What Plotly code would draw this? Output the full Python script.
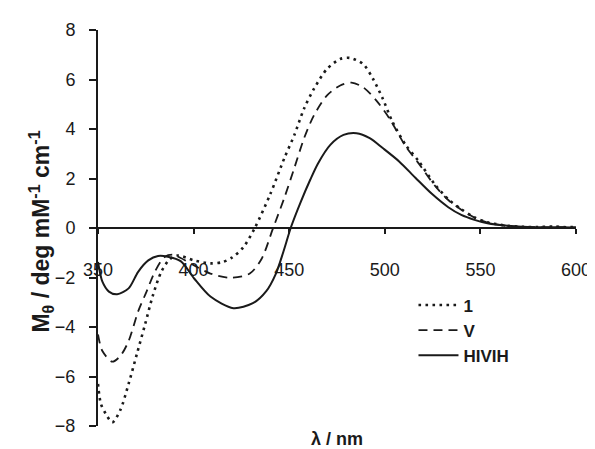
import plotly.graph_objects as go

# ---- data ----
wl_1 = [350, 351.5, 354, 357.5, 361.7, 366, 370.3, 374.6, 378.8, 383.1, 387.4, 391.7,
        400.3, 408.8, 415, 420, 426, 432, 440, 447.5, 452.7, 457.8, 463, 469.8, 476.7,
        481.8, 488.6, 493.8, 498.9, 504, 510.9, 517.8, 526.3, 533.2, 540, 546.9, 553.7,
        564, 572, 580, 588, 595, 600]
cd_1 = [-6.3, -7.1, -7.5, -7.85, -7.35, -6.3, -5.1, -3.9, -2.7, -1.77, -1.27, -1.11,
        -1.31, -1.43, -1.38, -1.2, -0.78, 0.0, 1.35, 2.83, 3.76, 4.83, 5.63, 6.43, 6.83,
        6.87, 6.63, 6.03, 5.23, 4.29, 3.36, 2.69, 1.75, 1.16, 0.76, 0.43, 0.23,
        0.09, 0.05, 0.04, 0.06, 0.03, 0.05]

wl_v = [350, 352.3, 357.5, 361.7, 366, 371, 375.4, 379.7, 384.8, 389, 393, 400.3,
        408.8, 419, 429.4, 435.6, 441.6, 447.5, 452.7, 457.8, 463, 469.8, 476.7, 482.6,
        488.6, 495.5, 502.4, 510.9, 517.8, 526.3, 533.2, 540, 546.9, 553.7, 564, 572,
        580, 588, 595, 600]
cd_v = [-4.3, -4.97, -5.4, -5.17, -4.57, -3.37, -2.57, -1.77, -1.17, -1.08, -1.2, -1.51,
        -1.84, -2.01, -1.84, -1.24, 0.0, 1.23, 2.43, 3.63, 4.56, 5.36, 5.76, 5.87,
        5.69, 5.16, 4.43, 3.3, 2.6, 1.7, 1.13, 0.74, 0.42, 0.22, 0.08, 0.04,
        0.03, 0.02, 0.04, 0.02]

wl_h = [350, 352.3, 355.7, 360, 366, 371, 376.3, 381.4, 386.5, 393.4, 400.3, 408.8,
        420.8, 431, 438, 443, 447, 451, 456, 461, 465, 471.5, 478.4, 485.2, 492.1,
        498.9, 507.5, 516, 524.6, 533.2, 540, 546.9, 553.7, 564, 575, 588, 600]
cd_h = [-1.37, -2.17, -2.57, -2.68, -2.44, -1.77, -1.31, -1.13, -1.16, -1.35, -2.04, -2.77,
        -3.24, -3.04, -2.55, -1.85, -0.95, 0.05, 1.05, 1.95, 2.6, 3.36, 3.76, 3.83, 3.63,
        3.23, 2.69, 2.03, 1.38, 0.84, 0.53, 0.33, 0.19, 0.09, 0.04, 0.03, 0.02]

series_names = ["1", "V", "HIVIH"]
x_ticks = [350, 400, 450, 500, 550, 600]
y_ticks = [-8, -6, -4, -2, 0, 2, 4, 6, 8]

FONT = "Arial, 'Liberation Sans', sans-serif"
INK = "#1a1a1a"

fig = go.Figure()
fig.add_trace(go.Scatter(x=wl_1, y=cd_1, name=series_names[0], mode="lines",
                         line=dict(color=INK, width=2.6, dash="2.6px,4.4px", shape="spline", smoothing=0.8)))
fig.add_trace(go.Scatter(x=wl_v, y=cd_v, name=series_names[1], mode="lines",
                         line=dict(color=INK, width=1.8, dash="9px,6px", shape="spline", smoothing=0.8)))
fig.add_trace(go.Scatter(x=wl_h, y=cd_h, name=series_names[2], mode="lines",
                         line=dict(color=INK, width=2, shape="spline", smoothing=0.8)))

fig.update_layout(
    width=595, height=449,
    margin=dict(l=90, r=18, t=19, b=31),
    paper_bgcolor="white", plot_bgcolor="white",
    font=dict(family=FONT, size=18, color=INK),
    showlegend=True,
    legend=dict(x=0.66, y=0.35, xanchor="left", yanchor="top",
                bgcolor="rgba(0,0,0,0)", font=dict(size=17, weight="bold", color=INK),
                itemwidth=40, tracegroupgap=0),
    xaxis=dict(range=[350, 600], tickvals=x_ticks, showgrid=False, zeroline=False,
               showline=True, linecolor=INK, linewidth=2, ticks="outside", ticklen=5,
               tickwidth=2, tickcolor=INK, anchor="free", position=0.5,
               ticklabelstandoff=20, tickfont=dict(size=18, color=INK)),
    yaxis=dict(range=[-8, 8], tickvals=y_ticks, showgrid=False, zeroline=False,
               showline=True, linecolor=INK, linewidth=2, ticks="outside", ticklen=7,
               tickwidth=2, tickcolor=INK, ticklabelstandoff=10,
               tickfont=dict(size=18, color=INK)),
    annotations=[
        dict(text="<b>M<sub>θ</sub> / deg mM<sup>-1</sup> cm<sup>-1</sup></b>",
             xref="paper", yref="paper", x=-0.12, y=0.49, textangle=-90,
             showarrow=False, font=dict(size=23, color=INK), xanchor="center", yanchor="middle"),
        dict(text="<b>λ / nm</b>", xref="paper", yref="paper", x=0.5, y=-0.033,
             showarrow=False, font=dict(size=18, color=INK), xanchor="center", yanchor="middle"),
    ],
)

fig.write_html("out.html")
